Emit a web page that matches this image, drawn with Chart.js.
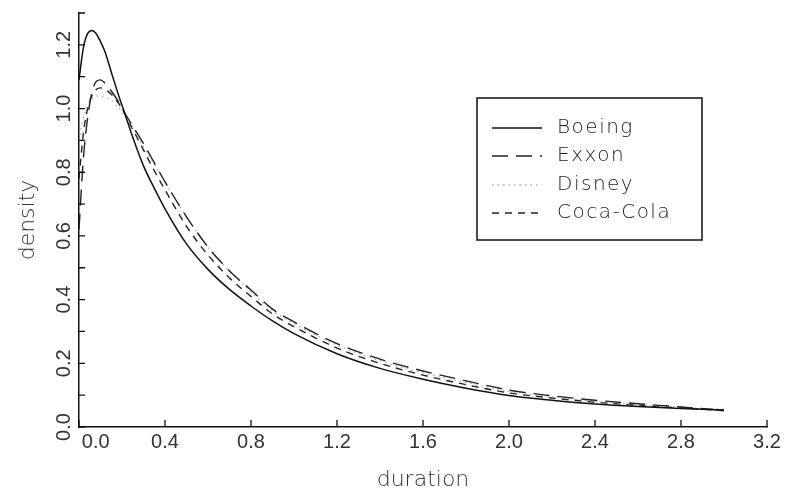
<!DOCTYPE html>
<html><head><meta charset="utf-8">
<script src="https://cdn.jsdelivr.net/npm/chart.js@4"></script>
<style>html,body{margin:0;padding:0;background:#fff}</style>
</head><body>
<canvas id="c" width="792" height="493"></canvas>
<script>
const durations = [0, 0.02, 0.04, 0.06, 0.08, 0.1, 0.12, 0.15, 0.18, 0.2, 0.25, 0.3, 0.35, 0.4, 0.5, 0.6, 0.7, 0.8, 0.9, 1.0, 1.2, 1.4, 1.6, 1.8, 2.0, 2.2, 2.4, 2.6, 2.8, 3.0];
const boeing   = [1.09, 1.19, 1.235, 1.245, 1.235, 1.21, 1.18, 1.115, 1.05, 1.01, 0.91, 0.82, 0.75, 0.685, 0.575, 0.495, 0.432, 0.38, 0.333, 0.293, 0.23, 0.184, 0.15, 0.122, 0.099, 0.084, 0.072, 0.064, 0.058, 0.053];
const exxon    = [0.62, 0.84, 0.97, 1.05, 1.085, 1.09, 1.08, 1.055, 1.025, 1.0, 0.945, 0.89, 0.83, 0.77, 0.66, 0.565, 0.49, 0.43, 0.37, 0.33, 0.262, 0.213, 0.176, 0.145, 0.116, 0.098, 0.084, 0.073, 0.063, 0.052];
const disney   = [0.9, 0.97, 1.01, 1.03, 1.04, 1.04, 1.035, 1.025, 1.005, 0.99, 0.94, 0.88, 0.825, 0.77, 0.66, 0.565, 0.49, 0.425, 0.365, 0.325, 0.257, 0.208, 0.17, 0.14, 0.112, 0.095, 0.081, 0.07, 0.061, 0.056];
const cocaCola = [0.78, 0.92, 1.0, 1.04, 1.06, 1.065, 1.06, 1.045, 1.02, 1.0, 0.935, 0.87, 0.805, 0.745, 0.63, 0.54, 0.468, 0.41, 0.355, 0.315, 0.248, 0.2, 0.163, 0.133, 0.107, 0.091, 0.078, 0.068, 0.06, 0.051];
const seriesNames = ['Boeing', 'Exxon', 'Disney', 'Coca-Cola'];
const xTicks = [0, 0.4, 0.8, 1.2, 1.6, 2.0, 2.4, 2.8, 3.2];
const xTickLabels = ['      0.0', '0.4', '0.8', '1.2', '1.6', '2.0', '2.4', '2.8', '3.2'];
const yTicks = [0, 0.1, 0.2, 0.3, 0.4, 0.5, 0.6, 0.7, 0.8, 0.9, 1.0, 1.1, 1.2, 1.3];
const yTickLabels = ['0.0', '', '0.2', '', '0.4', '', '0.6', '', '0.8', '', '1.0', '', '1.2', ''];

const pts = arr => durations.map((x, i) => ({x: x, y: arr[i]}));

const inwardTicks = {
  id: 'inwardTicks',
  afterDraw(chart) {
    const ctx = chart.ctx, xs = chart.scales.x, ys = chart.scales.y, ca = chart.chartArea;
    ctx.save();
    ctx.strokeStyle = '#111'; ctx.lineWidth = 1.3; ctx.setLineDash([]);
    ctx.beginPath();
    xs.ticks.forEach(t => { const p = xs.getPixelForValue(t.value); ctx.moveTo(p, ca.bottom); ctx.lineTo(p, ca.bottom - 7); });
    ys.ticks.forEach(t => { const p = ys.getPixelForValue(t.value); ctx.moveTo(ca.left, p); ctx.lineTo(ca.left + 6, p); });
    ctx.stroke();
    ctx.restore();
  }
};

const boxLegend = {
  id: 'boxLegend',
  afterDatasetsDraw(chart) {
    const ctx = chart.ctx;
    const L = 477, T = 98, R = 702, B = 240;
    const rows = [128, 156, 185, 213];
    ctx.save();
    ctx.fillStyle = '#fff'; ctx.fillRect(L, T, R - L, B - T);
    ctx.strokeStyle = '#111'; ctx.lineWidth = 1.5; ctx.setLineDash([]);
    ctx.strokeRect(L, T, R - L, B - T);
    ctx.font = '300 20px "DejaVu Sans"'; ctx.textBaseline = 'middle'; ctx.textAlign = 'left';
    try { ctx.letterSpacing = '1.5px'; } catch (e) {}
    chart.data.datasets.forEach((ds, i) => {
      const y = rows[i];
      ctx.strokeStyle = ds.borderColor; ctx.lineWidth = ds.borderWidth;
      ctx.setLineDash(ds.borderDash || []);
      ctx.beginPath(); ctx.moveTo(492, y); ctx.lineTo(542, y); ctx.stroke();
      ctx.fillStyle = '#222';
      ctx.fillText(ds.label, 557, y);
    });
    ctx.restore();
  }
};

new Chart(document.getElementById('c'), {
  type: 'line',
  data: {
    datasets: [
      {label: seriesNames[0], data: pts(boeing), borderColor: '#111', borderWidth: 1.5, borderDash: []},
      {label: seriesNames[1], data: pts(exxon), borderColor: '#222', borderWidth: 1.4, borderDash: [16, 8]},
      {label: seriesNames[2], data: pts(disney), borderColor: '#aaa', borderWidth: 1.3, borderDash: [1.5, 4]},
      {label: seriesNames[3], data: pts(cocaCola), borderColor: '#222', borderWidth: 1.4, borderDash: [7, 6]}
    ]
  },
  options: {
    responsive: false,
    animation: false,
    layout: {padding: {top: 8, right: 25, bottom: 0, left: 0}},
    elements: {point: {radius: 0}, line: {cubicInterpolationMode: 'monotone', fill: false}},
    plugins: {legend: {display: false}, tooltip: {enabled: false}},
    scales: {
      x: {
        type: 'linear', min: 0, max: 3.2,
        afterBuildTicks: s => { s.ticks = xTicks.map(v => ({value: v})); },
        afterFit: s => { s.height = 66; },
        grid: {display: true, drawOnChartArea: false, drawTicks: false},
        border: {display: true, color: '#111', width: 1.5},
        ticks: {padding: 3, maxRotation: 0, autoSkip: false, color: '#333',
                font: {family: 'Liberation Sans', size: 20},
                callback: (v, i) => xTickLabels[i]},
        title: {display: true, text: 'duration', color: '#333',
                font: {family: 'DejaVu Sans', size: 22, weight: 300}, padding: {top: 0, bottom: 0}}
      },
      y: {
        type: 'linear', min: 0, max: 1.3,
        afterBuildTicks: s => { s.ticks = yTicks.map(v => ({value: v})); },
        afterFit: s => { s.width = 79; },
        grid: {display: true, drawOnChartArea: false, drawTicks: false},
        border: {display: true, color: '#111', width: 1.5},
        ticks: {padding: 1, minRotation: 90, maxRotation: 90, crossAlign: 'center', autoSkip: false,
                color: '#333', font: {family: 'Liberation Sans', size: 20},
                callback: (v, i) => yTickLabels[i]},
        title: {display: true, text: 'density', color: '#333',
                font: {family: 'DejaVu Sans', size: 22, weight: 300}, padding: {top: 15, bottom: 0}}
      }
    }
  },
  plugins: [inwardTicks, boxLegend]
});
</script>
</body></html>
